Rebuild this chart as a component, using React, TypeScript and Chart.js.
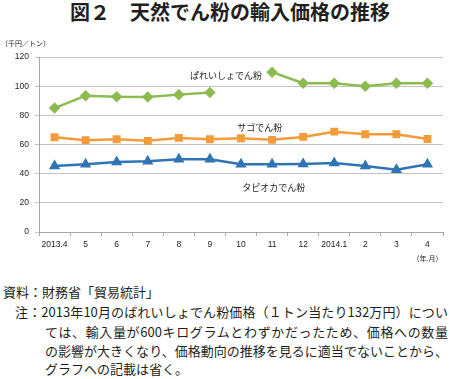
import React, { useEffect, useRef } from "react";
import { Chart, registerables } from "chart.js";

Chart.register(...registerables);

const categories = ["2013.4", "5", "6", "7", "8", "9", "10", "11", "12", "2014.1", "2", "3", "4"];
const potatoStarch = [85, 93.5, 92.8, 92.6, 94.2, 95.7, null, 109.6, 102, 102, 100, 102, 102];
const sagoStarch = [65, 63, 63.6, 62.5, 64.5, 63.6, 64.3, 63.2, 65.2, 68.8, 67, 67, 63.8];
const tapiocaStarch = [45.3, 46.4, 48, 48.5, 49.9, 49.9, 46.4, 46.4, 46.7, 47.3, 45.3, 42.7, 46.4];
const seriesNames = ["ぱれいしょでん粉", "サゴでん粉", "タピオカでん粉"];
const yUnit = "（千円／トン）";
const xUnit = "（年.月）";

// label anchors in data coordinates (category index, value)
const labelAnchors = [
  { index: 5.52, value: 107 },
  { index: 6.6, value: 71.3 },
  { index: 7.05, value: 30.8 },
];

const footLines = [
  { text: "資料：財務省「貿易統計」", left: 3, center: 292, width: 0 },
  { text: "注：2013年10月のばれいしょでん粉価格（１トン当たり132万円）につい", left: 15, center: 312, width: 433 },
  { text: "ては、輸入量が600キログラムとわずかだったため、価格への数量", left: 45, center: 332, width: 403 },
  { text: "の影響が大きくなり、価格動向の推移を見るに適当でないことから、", left: 45, center: 351, width: 403 },
  { text: "グラフへの記載は省く。", left: 45, center: 369, width: 0 },
];

const JP = '"Noto Sans CJK JP", sans-serif';
const TICK_FONT = { family: '"Liberation Sans", Arial, sans-serif', size: 8.5 };

export default function App() {
  const ref = useRef<HTMLCanvasElement | null>(null);

  useEffect(() => {
    if (!ref.current) return;
    const labelPlugin = {
      id: "labels",
      afterDraw(chart: any) {
        const ctx = chart.ctx;
        const xs = chart.scales.x;
        const ys = chart.scales.y;
        ctx.save();
        ctx.fillStyle = "#222";
        ctx.textBaseline = "middle";
        ctx.font = `9px ${JP}`;
        ctx.textAlign = "center";
        labelAnchors.forEach((a, i) => {
          ctx.fillText(seriesNames[i], xs.getPixelForValue(a.index), ys.getPixelForValue(a.value));
        });
        ctx.font = `7px ${JP}`;
        ctx.textAlign = "left";
        ctx.fillText(yUnit, 1, 7);
        ctx.textAlign = "center";
        ctx.fillText(xUnit, xs.getPixelForValue(categories.length - 1), chart.chartArea.bottom + 26);
        ctx.restore();
      },
    };

    const chart = new Chart(ref.current, {
      type: "line",
      data: {
        labels: categories,
        datasets: [
          {
            label: seriesNames[0],
            data: potatoStarch,
            borderColor: "#8cbb4f",
            backgroundColor: "#8cbb4f",
            borderWidth: 2.5,
            pointStyle: "rectRot",
            pointRadius: 4,
            spanGaps: false,
          },
          {
            label: seriesNames[1],
            data: sagoStarch,
            borderColor: "#f59b3a",
            backgroundColor: "#f59b3a",
            borderWidth: 2.5,
            pointStyle: "rect",
            pointRadius: 3.8,
          },
          {
            label: seriesNames[2],
            data: tapiocaStarch,
            borderColor: "#2f74b5",
            backgroundColor: "#2f74b5",
            borderWidth: 2.5,
            pointStyle: "triangle",
            pointRadius: 4,
          },
        ],
      },
      options: {
        animation: false,
        responsive: false,
        maintainAspectRatio: false,
        layout: { padding: { top: 21, left: 0, right: 7, bottom: 0 } },
        plugins: {
          legend: { display: false },
          tooltip: { enabled: false },
          title: { display: false },
        },
        scales: {
          x: {
            offset: true,
            grid: {
              offset: true,
              drawOnChartArea: false,
              drawTicks: true,
              tickLength: 4,
              color: "#a6a6a6",
            },
            border: { color: "#a6a6a6" },
            ticks: { font: TICK_FONT, color: "#222", padding: 4, maxRotation: 0, autoSkip: false },
            afterFit: (s: any) => {
              s.height = 40;
            },
          },
          y: {
            min: 0,
            max: 120,
            ticks: { stepSize: 20, font: TICK_FONT, color: "#222", padding: 6 },
            grid: { color: "#c4c4c4", tickLength: 4 },
            border: { color: "#a6a6a6" },
            afterFit: (s: any) => {
              s.width = 39;
            },
          },
        },
      },
      plugins: [labelPlugin],
    } as any);
    return () => chart.destroy();
  }, []);

  return (
    <div
      style={{
        position: "fixed",
        left: 0,
        top: 0,
        width: 450,
        height: 379,
        background: "#fff",
        overflow: "hidden",
        fontFamily: JP,
        color: "#231f20",
      }}
    >
      <div
        style={{
          position: "absolute",
          top: 0,
          left: 5,
          width: 450,
          textAlign: "center",
          fontSize: 20,
          fontWeight: 700,
          lineHeight: "23px",
          whiteSpace: "nowrap",
        }}
      >
        図２　天然でん粉の輸入価格の推移
      </div>
      <canvas
        ref={ref}
        width={450}
        height={236}
        style={{ position: "absolute", left: 0, top: 36, width: 450, height: 236, display: "block" }}
      />
      {footLines.map((l, i) => (
        <div
          key={i}
          style={{
            position: "absolute",
            left: l.left,
            top: l.center - 9,
            height: 18,
            lineHeight: "18px",
            fontSize: 13,
            whiteSpace: "nowrap",
            width: l.width || undefined,
            textAlign: l.width ? "justify" : "left",
            textAlignLast: l.width ? "justify" : "auto",
          } as any}
        >
          {l.text}
        </div>
      ))}
    </div>
  );
}
